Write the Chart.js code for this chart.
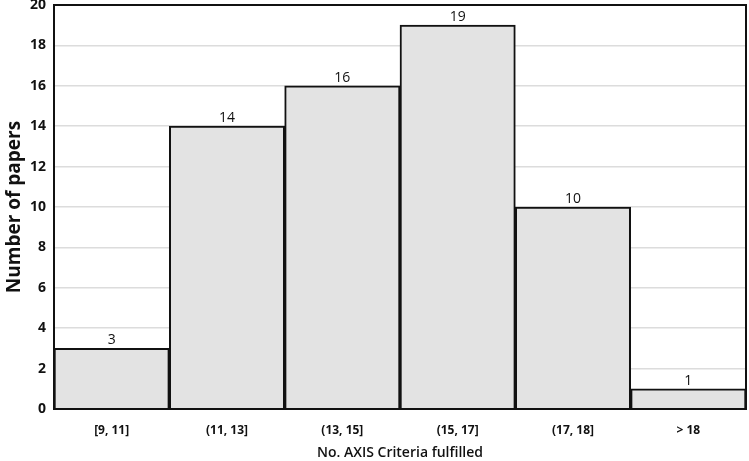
<!DOCTYPE html>
<html><head><meta charset="utf-8">
<script src="https://cdn.jsdelivr.net/npm/chart.js@4/dist/chart.umd.min.js"></script>
<style>html,body{margin:0;padding:0;background:#fff}#wrap{width:749px;height:461px}</style>
</head><body><div id="wrap"><canvas id="c" width="749" height="461"></canvas></div>
<script>
const categories = ["[9, 11]", "(11, 13]", "(13, 15]", "(15, 17]", "(17, 18]", "> 18"];
const paperCounts = [3, 14, 16, 19, 10, 1];
const yTicks = [0, 2, 4, 6, 8, 10, 12, 14, 16, 18, 20];
const FONT = "'Open Sans', 'Liberation Sans', sans-serif";

const labelsPlugin = {
  id: 'labels',
  afterDatasetsDraw(chart) {
    const ctx = chart.ctx;
    const meta = chart.getDatasetMeta(0);
    ctx.save();
    ctx.font = "14px " + FONT;
    ctx.fillStyle = "#111";
    ctx.textAlign = "center";
    ctx.textBaseline = "bottom";
    meta.data.forEach((bar, i) => {
      ctx.fillText(String(paperCounts[i]), bar.x, bar.y - 1);
    });
    const a = chart.chartArea;
    ctx.strokeStyle = "#111";
    ctx.lineWidth = 2;
    ctx.strokeRect(a.left, a.top, a.right - a.left, a.bottom - a.top);
    ctx.restore();
  }
};

new Chart(document.getElementById('c'), {
  type: 'bar',
  data: {
    labels: categories,
    datasets: [{
      data: paperCounts,
      backgroundColor: '#e3e3e3',
      borderColor: '#111',
      borderWidth: 2,
      barPercentage: 1,
      categoryPercentage: 1
    }]
  },
  options: {
    responsive: false,
    animation: false,
    layout: { padding: { left: 0, right: 3, top: 5, bottom: 0 } },
    plugins: { legend: { display: false }, tooltip: { enabled: false } },
    scales: {
      x: {
        grid: { display: false },
        border: { display: false },
        ticks: { font: { family: FONT, size: 12, weight: 'bold' }, color: '#111', padding: 6 },
        title: { display: true, text: 'No. AXIS Criteria fulfilled', font: { family: FONT, size: 14, weight: '600' }, color: '#111', padding: { top: 4, bottom: 0 } },
        afterFit(s) { s.height = 52; s.paddingLeft = 0; s.paddingRight = 0; }
      },
      y: {
        min: 0, max: 20,
        afterBuildTicks(s) { s.ticks = yTicks.map(v => ({ value: v })); },
        grid: { color: '#dcdcdc', lineWidth: 1.5, drawTicks: false },
        border: { display: false },
        ticks: { font: { family: FONT, size: 14, weight: 'bold' }, color: '#111', padding: 8 },
        title: { display: true, text: 'Number of papers', font: { family: FONT, size: 19, weight: 'bold' }, color: '#111', padding: { top: 3, bottom: 2 } },
        afterFit(s) { s.width = 54; s.paddingTop = 0; s.paddingBottom = 0; }
      }
    }
  },
  plugins: [labelsPlugin]
});
</script>
</body></html>
